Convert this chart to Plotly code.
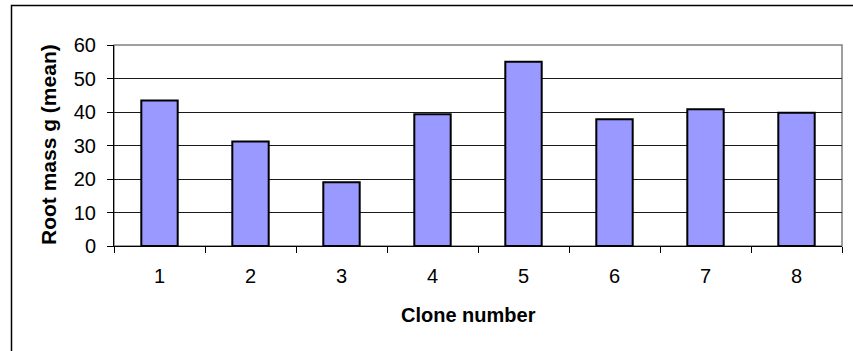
import plotly.graph_objects as go

# Mean root mass per clone
clones = ["1", "2", "3", "4", "5", "6", "7", "8"]
root_mass = [43.4, 31.2, 19.0, 39.3, 55.0, 37.8, 40.8, 39.8]

W, H = 853, 351
ML, MR, MT, MB = 114, 11, 45, 105
plot_w = W - ML - MR
plot_h = H - MT - MB

def px_to_paper_x(px):
    return (px - ML) / plot_w

def px_to_paper_y(py):
    return (H - MB - py) / plot_h

font = "Liberation Sans, Arial, sans-serif"

fig = go.Figure(
    go.Bar(
        x=clones,
        y=root_mass,
        marker=dict(color="#9999FF", line=dict(color="#000000", width=2)),
        width=0.4,
    )
)

fig.update_layout(
    width=W,
    height=H,
    margin=dict(l=ML, r=MR, t=MT, b=MB),
    paper_bgcolor="white",
    plot_bgcolor="white",
    showlegend=False,
    font=dict(family=font, size=20, color="#000000"),
    xaxis=dict(
        type="category",
        tickson="boundaries",
        ticks="outside",
        ticklen=6,
        tickcolor="#000000",
        showline=True,
        linecolor="#000000",
        linewidth=1,
        showgrid=False,
        tickfont=dict(size=20),
        ticklabelstandoff=12,
    ),
    yaxis=dict(
        range=[0, 60],
        dtick=10,
        ticks="outside",
        ticklen=6,
        tickcolor="#000000",
        showline=True,
        linecolor="#000000",
        linewidth=1,
        showgrid=True,
        gridcolor="#1a1a1a",
        gridwidth=1,
        zeroline=False,
        tickfont=dict(size=20),
        ticklabelstandoff=7,
    ),
    shapes=[
        # plot area frame (gray top and right edges)
        dict(type="rect", xref="paper", yref="paper", x0=0, x1=1, y0=0, y1=1,
             line=dict(color="#808080", width=1.5), layer="below"),
        # outer chart border
        dict(type="rect", xref="paper", yref="paper",
             x0=px_to_paper_x(11.5), x1=px_to_paper_x(W + 20),
             y0=px_to_paper_y(H + 20), y1=px_to_paper_y(5.5),
             line=dict(color="#000000", width=1.5)),
    ],
    annotations=[
        dict(text="<b>Clone number</b>", xref="paper", yref="paper",
             x=px_to_paper_x(468), y=px_to_paper_y(315),
             xanchor="center", yanchor="middle", showarrow=False,
             font=dict(size=20, family=font)),
        dict(text="<b>Root mass g (mean)</b>", xref="paper", yref="paper",
             x=px_to_paper_x(48), y=px_to_paper_y(145),
             xanchor="center", yanchor="middle", showarrow=False, textangle=-90,
             font=dict(size=21, family=font)),
    ],
)

fig.write_html("out.html")
